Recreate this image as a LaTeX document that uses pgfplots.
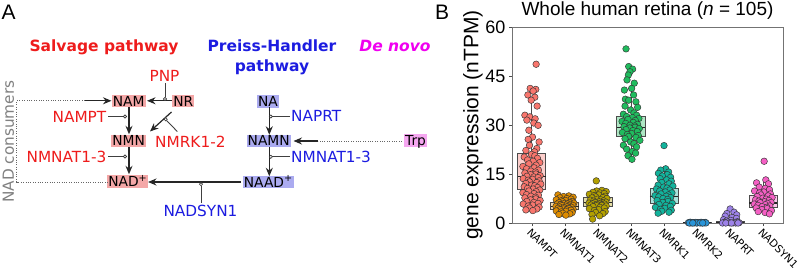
\documentclass[border=0pt]{standalone}
\usepackage{fontspec}
\setmainfont{DejaVu Sans}
\newfontfamily\lib{Liberation Sans}
\usepackage{pgfplots}
\pgfplotsset{compat=1.18}
\usepgfplotslibrary{statistics}
\usetikzlibrary{arrows.meta}
\definecolor{cA}{HTML}{F8766D}
\definecolor{cB}{HTML}{DE8C00}
\definecolor{cC}{HTML}{B3A000}
\definecolor{cD}{HTML}{20BC5E}
\definecolor{cE}{HTML}{12B39C}
\definecolor{cF}{HTML}{2A95D8}
\definecolor{cG}{HTML}{9D82E8}
\definecolor{cH}{HTML}{F45FC4}
\definecolor{cred}{HTML}{EE1C1C}
\definecolor{cblue}{HTML}{1C1CE0}
\definecolor{cmag}{HTML}{F000F0}
\definecolor{boxred}{HTML}{F4A7A7}
\definecolor{boxblue}{HTML}{ABABF0}
\definecolor{boxmag}{HTML}{F5A6F0}
\newcommand\fsM{\fontsize{13.8}{16}\selectfont}
\newcommand\fsE{\fontsize{15.3}{18}\selectfont}
\newcommand\fsT{\fontsize{15.5}{18}\selectfont\bfseries}
\tikzset{
  met/.style={inner xsep=1.2pt, inner ysep=1.1pt, text height=10.1pt, text depth=0pt, font=\fsM},
  arr/.style={-{Stealth[length=8.5pt,width=7pt]}, line width=1.2pt, draw=black!85},
  dots/.style={draw=black!60, line width=0.8pt, dash pattern=on 0.8pt off 1.6pt},
  stub/.style={draw=black!75, line width=0.9pt},
  cir/.style={draw=black!80, fill=white, line width=0.6pt},
  enz/.style={inner sep=0pt, font=\fsE}
}
\pgfplotsset{
  pts/.style={only marks, mark=*, mark size=3.3pt, mark options={fill=#1, draw=black!80, line width=0.45pt}},
  bx/.style={draw=black!70, line width=0.9pt, fill=#1!65!white, fill opacity=0.55,
     boxplot/draw direction=y,
     boxplot/every median/.style={draw=black!85, line width=1.4pt, fill opacity=1}}
}
\begin{document}
\begin{tikzpicture}
\path[use as bounding box] (0pt,0pt) rectangle (798pt,268pt);
\begin{scope}[shift={(0pt,268pt)},x=1pt,y=-1pt]
\node[anchor=base west, inner sep=0pt, font=\lib\fontsize{21}{24}\selectfont] at (1.5,20) {A};
\node[anchor=base west, inner sep=0pt, font=\lib\fontsize{21}{24}\selectfont] at (435,20) {B};
\node[anchor=base, inner sep=0pt, font=\fsT, text=cred] at (104,52) {Salvage pathway};
\node[anchor=base, inner sep=0pt, font=\fsT, text=cblue] at (272,52) {Preiss-Handler};
\node[anchor=base, inner sep=0pt, font=\fsT, text=cblue] at (272,72) {pathway};
\node[anchor=base, inner sep=0pt, font=\fsT\itshape, text=cmag] at (395,52) {De novo};
% metabolites
\node[met, fill=boxred] at (128.7,101.2) {NAM};
\node[met, fill=boxred] at (183.3,101.2) {NR};
\node[met, fill=boxred] at (128.7,140.8) {NMN};
\node[met, fill=boxred] at (127.8,181.5) {NAD\textsuperscript{+}};
\node[met, fill=boxblue] at (268,101.5) {NA};
\node[met, fill=boxblue] at (268.7,140.8) {NAMN};
\node[met, fill=boxblue] at (268.3,182) {NAAD\textsuperscript{+}};
\node[met, fill=boxmag] at (415.5,140.5) {Trp};
% arrows
\draw[arr] (171.5,100.8) -- (147,100.8);
\draw[arr] (129,107.5) -- (129,134.3);
\draw[arr] (171.5,112) -- (150,131.5);
\draw[arr] (129,147.3) -- (129,174.3);
\draw[arr] (241,182) -- (148,182);
\draw[arr] (269.3,107.5) -- (269.3,134.8);
\draw[arr] (269.3,147.3) -- (269.3,176.3);
\draw[dots] (402,141) -- (318,141);
\draw[arr] (318,141) -- (293.5,141);
\draw[dots] (85,100.8) -- (16.7,100.8) -- (16.7,182) -- (107.5,182);
\draw[arr] (85,100.8) -- (111.5,100.8);
% enzymes
\node[enz, anchor=base, text=cred] at (164.5,81.5) {PNP};
\draw[stub] (165,83.5) -- (165,97.4);
\draw[cir] (165,99) circle (1.6pt);
\node[enz, anchor=base east, text=cred] at (106.5,122.5) {NAMPT};
\draw[stub] (108,116.5) -- (123.4,116.5);
\draw[cir] (125,116.5) circle (1.6pt);
\node[enz, anchor=base west, text=cred] at (155,147.5) {NMRK1-2};
\draw[stub] (177.3,131.5) -- (166.7,120.6);
\draw[cir] (165.7,119.3) circle (1.6pt);
\node[enz, anchor=base east, text=cred] at (106.5,162.5) {NMNAT1-3};
\draw[stub] (108,156.5) -- (123.4,156.5);
\draw[cir] (125,156.5) circle (1.6pt);
\node[enz, anchor=base, text=cblue] at (200.5,216.5) {NADSYN1};
\draw[stub] (201,203) -- (201,185.8);
\draw[cir] (201,184.2) circle (1.6pt);
\node[enz, anchor=base west, text=cblue] at (291,122) {NAPRT};
\draw[stub] (290,116.5) -- (272.4,116.5);
\draw[cir] (270.8,116.5) circle (1.6pt);
\node[enz, anchor=base west, text=cblue] at (291,162.5) {NMNAT1-3};
\draw[stub] (290,156.8) -- (272.4,156.8);
\draw[cir] (270.8,156.8) circle (1.6pt);
\node[enz, rotate=90, text=black!50] at (8.5,141.7) {NAD consumers};
\end{scope}

\begin{axis}[
  at={(512pt,45pt)}, anchor=south west,
  width=271pt, height=196pt, scale only axis,
  xmin=-0.6, xmax=7.6, ymin=0, ymax=60,
  xtick={0,1,2,3,4,5,6,7},
  xticklabels={NAMPT,NMNAT1,NMNAT2,NMNAT3,NMRK1,NMRK2,NAPRT,NADSYN1},
  ytick={0,15,30,45,60},
  tick pos=left, tick align=outside, major tick length=3pt,
  tick style={black!70, line width=0.6pt},
  axis line style={black!55, line width=0.8pt},
  x tick label style={rotate=-45, anchor=north west, font=\fontsize{10.5}{12}\selectfont, inner sep=1pt},
  y tick label style={font=\lib\fontsize{18}{20}\selectfont},
  /pgf/number format/assume math mode=true,
  title={Whole human retina (\textit{n} = 105)},
  title style={font=\lib\fontsize{19}{22}\selectfont, inner sep=1pt},
  every axis y label/.style={at={(axis description cs:-0.144,0.5)}, rotate=90, anchor=center},
  ylabel={gene expression (nTPM)},
  ylabel style={font=\lib\fontsize{21}{24}\selectfont},
  boxplot/draw direction=y,
]
% NAMPT points
\addplot[pts=cA] coordinates {
(0.13,48.6) (-0.05,41.2) (0.12,40.9) (0.04,40.4) (-0.12,39.2) (0.09,38.5) (-0.02,37.6) (0.16,35.8) (-0.21,33.0) (-0.06,32.5) (0.10,31.9) (-0.15,31.5) (0.06,30.6) (0.19,29.9) (-0.09,28.4) (0.02,26.3) (-0.11,25.6) (0.22,24.8) (-0.07,23.8) (0.15,22.8) (-0.18,22.2) (0.08,21.8)
(-0.01,21.0) (0.09,20.6) (-0.23,20.2) (0.17,19.8) (-0.13,19.3) (0.04,18.9) (0.24,18.5) (-0.09,18.1) (0.13,17.7) (-0.27,17.3) (0.07,16.9) (-0.16,16.6) (0.20,16.2) (-0.03,15.9) (0.11,15.6) (-0.21,15.3) (0.12,15.0) (-0.04,14.8) (0.25,14.5) (-0.15,14.3) (0.06,14.1) (0.19,13.9) (-0.26,13.6) (0.02,13.4) (-0.11,13.1) (0.22,12.9) (-0.07,12.6) (0.15,12.4) (-0.18,12.1) (0.27,11.9) (-0.01,11.6) (0.09,11.4) (-0.23,11.1) (0.17,10.9) (-0.13,10.6) (0.04,10.4)
(0.24,10.1) (-0.09,9.8) (0.13,9.6) (-0.27,9.3) (0.07,9.0) (-0.16,8.7) (0.20,8.5) (-0.03,8.2) (0.11,7.9) (-0.21,7.7) (0.12,7.4) (-0.04,7.1) (0.25,6.9) (-0.15,6.6) (0.06,6.3) (0.19,6.0) (-0.26,5.8) (0.02,5.5) (-0.11,5.2) (0.22,4.9) (-0.07,4.6) (0.15,4.3) (-0.18,4.0) (0.03,3.8)
};
% NMNAT1
\addplot[pts=cB] coordinates {
(0.79,8.6) (1.12,8.3) (0.96,8.1) (1.25,7.9) (0.85,7.7) (1.06,7.5) (1.19,7.3) (0.74,7.1) (1.02,6.9) (0.89,6.8) (1.22,6.6) (0.93,6.5) (1.15,6.3) (0.82,6.2) (1.27,6.1) (0.99,6.0) (1.09,5.9) (0.77,5.8) (1.17,5.7) (0.87,5.6) (1.04,5.5) (1.24,5.4) (0.91,5.3) (1.13,5.2) (0.73,5.1) (1.07,5.0) (0.84,4.9) (1.20,4.8) (0.97,4.7) (1.11,4.6) (0.79,4.5) (1.12,4.4) (0.96,4.3) (1.25,4.2) (0.85,4.1) (1.06,4.0) (1.19,3.9) (0.74,3.7) (1.02,3.6) (0.89,3.4) (1.22,3.2) (0.93,3.0) (1.15,2.8) (0.82,2.6) (1.03,2.4)
};
% NMNAT2
\addplot[pts=cC] coordinates {
(1.95,12.9) (2.12,10.0) (1.96,9.8) (2.25,9.6) (1.85,9.4) (2.06,9.2) (2.19,9.0) (1.74,8.8) (2.02,8.6) (1.89,8.4) (2.22,8.2) (1.93,8.0) (2.15,7.8) (1.82,7.7) (2.27,7.5) (1.99,7.3) (2.09,7.1) (1.77,7.0) (2.17,6.8) (1.87,6.7) (2.04,6.5) (2.24,6.4) (1.91,6.3) (2.13,6.2) (1.73,6.1) (2.07,6.0) (1.84,5.9) (2.20,5.8) (1.97,5.7) (2.11,5.6) (1.79,5.5) (2.12,5.4) (1.96,5.3) (2.25,5.2) (1.85,5.0) (2.06,4.8) (2.19,4.6) (1.74,4.4) (2.02,4.1) (1.89,3.8) (2.22,3.5) (1.93,3.2) (2.15,2.9) (1.82,2.6) (2.05,2.2) (1.84,1.2)
};
% NMNAT3
\addplot[pts=cD] coordinates {
(2.85,53.3) (2.93,47.9) (3.05,47.1) (2.97,46.3) (2.92,45.3) (2.88,43.8) (3.10,42.8) (3.02,41.2) (2.80,40.7) (3.08,39.2) (2.83,37.9) (2.93,37.6) (3.15,37.1) (2.82,35.8) (3.20,35.4) (2.99,34.6) (3.09,33.7) (2.77,33.3) (3.17,33.0) (2.87,32.6) (3.04,32.3) (3.24,32.0) (2.91,31.7) (3.13,31.4) (2.73,31.1) (3.07,30.8) (2.84,30.5) (3.20,30.2) (2.97,29.9) (3.11,29.7) (2.79,29.5) (3.12,29.3) (2.96,29.1) (3.25,28.9) (2.85,28.6) (3.06,28.3) (3.19,28.0) (2.74,27.7) (3.02,27.4) (2.89,27.1) (3.22,26.8) (2.93,26.5) (3.15,26.2) (2.82,25.8) (3.27,25.3) (2.99,24.8) (3.09,24.3) (2.77,23.8) (3.17,23.3) (2.87,22.6) (3.04,21.9) (3.14,21.4) (2.91,20.6) (3.03,19.5)
};
% NMRK1
\addplot[pts=cE] coordinates {
(4.00,23.7) (4.05,16.6) (3.90,16.2) (4.14,15.6) (3.83,15.2) (4.10,14.8) (3.95,14.4) (4.20,14.0) (3.88,13.6) (4.08,13.2) (4.22,12.8) (3.93,12.4) (4.15,12.0) (3.82,11.6) (4.27,11.3) (3.99,11.0) (4.09,10.7) (3.77,10.4) (4.17,10.1) (3.87,9.8) (4.04,9.5) (4.24,9.2) (3.91,8.9) (4.13,8.6) (3.73,8.4) (4.07,8.2) (3.84,8.0) (4.20,7.8) (3.97,7.5) (4.11,7.2) (3.79,6.9) (4.12,6.6) (3.96,6.3) (4.25,6.0) (3.85,5.7) (4.06,5.4) (4.19,5.1) (3.74,4.8) (4.02,4.5) (3.89,4.2) (4.22,3.9) (3.93,3.6) (4.15,3.3) (3.82,3.0)
};
% NMRK2
\addplot[pts=cF] coordinates {
(4.79,0.25) (5.12,0.22) (4.96,0.20) (5.25,0.18) (4.85,0.15) (5.06,0.13) (5.19,0.12) (4.74,0.10) (5.02,0.08) (4.89,0.07) (5.22,0.05) (4.93,0.04) (5.15,0.03) (4.82,0.02) (5.27,0.02) (4.99,0.01) (5.09,0.01) (4.77,0) (5.17,0) (4.87,0)
};
% NAPRT
\addplot[pts=cG] coordinates {
(6.00,4.3) (6.12,3.3) (5.90,2.9) (6.20,2.5) (5.85,2.1) (6.06,1.7) (6.19,1.4) (5.80,1.0) (6.02,0.8) (5.89,0.6) (6.22,0.4) (5.93,0.3) (6.15,0.2) (5.82,0.15) (6.27,0.1) (5.99,0.05) (6.09,0.03) (5.77,0) (6.17,0) (5.87,0) (6.04,0) (6.24,0)
};
% NADSYN1
\addplot[pts=cH] coordinates {
(7.03,18.9) (7.08,13.2) (6.80,12.3) (7.16,12.0) (6.88,11.0) (7.06,10.6) (7.19,10.2) (6.74,9.8) (7.02,9.5) (6.89,9.2) (7.22,8.9) (6.93,8.6) (7.15,8.3) (6.82,8.1) (7.27,7.8) (6.99,7.6) (7.09,7.3) (6.77,7.1) (7.17,6.9) (6.87,6.7) (7.04,6.5) (7.24,6.3) (6.91,6.2) (7.13,6.0) (6.73,5.8) (7.07,5.6) (6.84,5.4) (7.20,5.2) (6.97,5.0) (7.11,4.8) (6.79,4.6) (7.12,4.4) (6.96,4.1) (7.25,3.8) (6.85,3.5) (7.06,3.2) (7.19,2.8)
};
% boxes
\addplot[bx=cA, boxplot prepared={draw position=0, lower whisker=3.8, lower quartile=10.3, median=14.3, upper quartile=21.3, upper whisker=37.6, box extend=0.85, whisker extend=0}] coordinates {};
\addplot[bx=cB, boxplot prepared={draw position=1, lower whisker=2.4, lower quartile=4.1, median=5.1, upper quartile=6.2, upper whisker=8.6, box extend=0.85, whisker extend=0}] coordinates {};
\addplot[bx=cC, boxplot prepared={draw position=2, lower whisker=2.2, lower quartile=5.2, median=6.2, upper quartile=7.7, upper whisker=10.0, box extend=0.85, whisker extend=0}] coordinates {};
\addplot[bx=cD, boxplot prepared={draw position=3, lower whisker=19.5, lower quartile=26.6, median=29.3, upper quartile=32.7, upper whisker=41.2, box extend=0.85, whisker extend=0}] coordinates {};
\addplot[bx=cE, boxplot prepared={draw position=4, lower whisker=3.0, lower quartile=5.9, median=8.2, upper quartile=10.55, upper whisker=16.6, box extend=0.85, whisker extend=0}] coordinates {};
\addplot[bx=cF, boxplot prepared={draw position=5, lower whisker=0, lower quartile=0.02, median=0.08, upper quartile=0.18, upper whisker=0.4, box extend=0.85, whisker extend=0}] coordinates {};
\addplot[bx=cG, boxplot prepared={draw position=6, lower whisker=0, lower quartile=0.02, median=0.1, upper quartile=0.35, upper whisker=0.8, box extend=0.85, whisker extend=0}] coordinates {};
\addplot[bx=cH, boxplot prepared={draw position=7, lower whisker=2.8, lower quartile=4.7, median=6.15, upper quartile=8.3, upper whisker=13.2, box extend=0.85, whisker extend=0}] coordinates {};
\end{axis}
\end{tikzpicture}
\end{document}
